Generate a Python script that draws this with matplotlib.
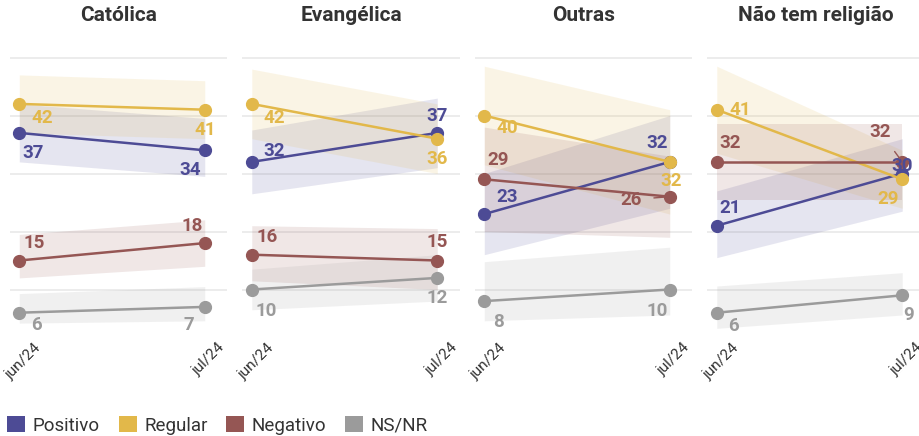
import matplotlib
matplotlib.use('Agg')
import matplotlib.pyplot as plt
from matplotlib.patches import Patch

plt.rcParams['font.family'] = ['Roboto', 'DejaVu Sans']

grupos = ['Católica', 'Evangélica', 'Outras', 'Não tem religião']
periodos = ['jun/24', 'jul/24']
series = ['Positivo', 'Regular', 'Negativo', 'NS/NR']

# valores por grupo: [jun, jul]
positivo = [[37, 34], [32, 37], [23, 32], [21, 30]]
regular = [[42, 41], [42, 36], [40, 32], [41, 29]]
negativo = [[15, 18], [16, 15], [29, 26], [32, 32]]
nsnr = [[6, 7], [10, 12], [8, 10], [6, 9]]

# faixas (margem de erro)
positivo_lo = [[32, 29.5], [26.5, 31], [16, 24], [15.5, 23.5]]
positivo_hi = [[42, 39.5], [37.5, 43], [30, 40], [27, 36]]
regular_lo = [[37, 36], [36, 30], [31.5, 23], [33.5, 24]]
regular_hi = [[47, 46], [48, 42], [48.5, 41], [48.5, 34]]
negativo_lo = [[12, 14], [11.5, 10], [20, 19], [25.5, 25.5]]
negativo_hi = [[19.5, 22], [21, 20.5], [38, 33], [38.5, 38.5]]
nsnr_lo = [[4.2, 4.6], [6.5, 8], [4.6, 5.6], [3.3, 5.6]]
nsnr_hi = [[9.3, 10.5], [13.5, 16], [14.8, 17.3], [10.6, 12.9]]

valores = [positivo, regular, negativo, nsnr]
faixas_lo = [positivo_lo, regular_lo, negativo_lo, nsnr_lo]
faixas_hi = [positivo_hi, regular_hi, negativo_hi, nsnr_hi]
cores = ['#4d4b95', '#e2b84a', '#955654', '#9b9b9b']

# deslocamento dos rotulos (pixels, y para cima) e se tem linha guia
rotulos = {
    0: {0: [(14, -20), (-15, -20)], 1: [(23, -14), (0, -20)],
        2: [(15, 18), (-13, 17)], 3: [(17, -12), (-16, -18, True)]},
    1: {0: [(22, 11), (0, 17)], 1: [(22, -14), (0, -20)],
        2: [(15, 18), (0, 19)], 3: [(14, -21), (0, -20)]},
    2: {0: [(23, 17, True), (-13, 19)], 1: [(23, -12), (1, -19)],
        2: [(14, 19), (-39, -3, True)], 3: [(14, -21, True), (-13, -21)]},
    3: {0: [(13, 18), (0, 8)], 1: [(23, 0), (-14, -20)],
        2: [(13, 19), (-22, 30, True)], 3: [(17, -13), (6, -20)]},
}

fig = plt.figure(figsize=(9.2, 4.36), dpi=100)
W, H = 920, 436

for g, grupo in enumerate(grupos):
    left = 10 + g * 232.5
    ax = fig.add_axes([left / W, (H - 347.5) / H, 217 / W, 53 * 5.8 / H])
    ax.set_xlim(-0.05, 1.12)
    ax.set_ylim(0, 53)
    for v in [10, 20, 30, 40, 50]:
        ax.axhline(v, color='#e9e9e9', lw=1.2, zorder=0)
    x = [0, 1]
    for s in range(4):
        ax.fill_between(x, faixas_lo[s][g], faixas_hi[s][g], color=cores[s],
                        alpha=0.14, lw=0, zorder=1)
    for s in range(4):
        ax.plot(x, valores[s][g], color=cores[s], lw=1.8, marker='o', ms=8.5, zorder=3)
        for i in range(2):
            off = rotulos[g][s][i]
            guia = len(off) > 2
            ax.annotate(str(valores[s][g][i]), xy=(x[i], valores[s][g][i]),
                        xytext=(off[0], off[1]), textcoords='offset pixels',
                        ha='center', va='center', color=cores[s], fontsize=13.5,
                        fontweight='bold', zorder=4,
                        arrowprops=dict(arrowstyle='-', color=cores[s], lw=1,
                                        shrinkA=7, shrinkB=3) if guia else None)
    for i, p in enumerate(periodos):
        ax.annotate(p, xy=(x[i], 0), xycoords=ax.get_xaxis_transform(),
                    xytext=(4, 7), textcoords='offset pixels', rotation=45,
                    ha='center', va='top', fontsize=11, color='#333333')
    ax.set_title(grupo, fontsize=15, fontweight='bold', color='#333333', pad=14)
    ax.axis('off')

handles = [Patch(facecolor=c, edgecolor='none') for c in cores]
fig.legend(handles, series, loc='lower left', bbox_to_anchor=(0.008, 0.003),
           ncol=4, frameon=False, fontsize=13.5, handlelength=0.96,
           handleheight=0.96, handletextpad=0.4, columnspacing=1.0,
           borderpad=0, borderaxespad=0, labelcolor='#333333')

fig.savefig('out.png', dpi=100)
